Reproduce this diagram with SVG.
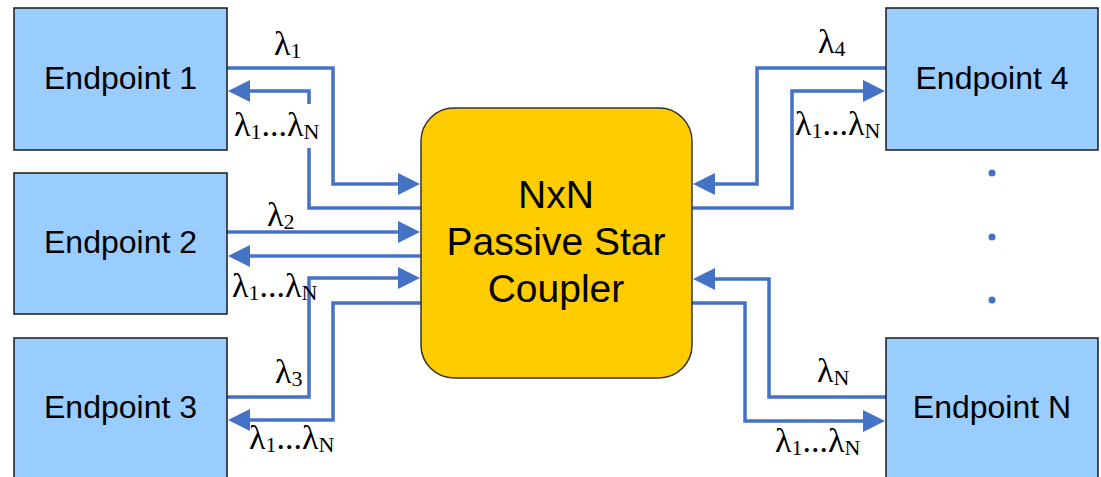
<svg xmlns="http://www.w3.org/2000/svg" width="1101" height="477" viewBox="0 0 1101 477">
  <style>
    .ep { fill: #99CCFF; stroke: #1a1a1a; stroke-width: 1.5; }
    .hub { fill: #FFCC00; stroke: #333333; stroke-width: 1.5; }
    .ept { font-family: "Liberation Sans", Arial, sans-serif; font-size: 32px; fill: #000; text-anchor: middle; }
    .hubt { font-family: "Liberation Sans", Arial, sans-serif; font-size: 39px; fill: #000; text-anchor: middle; }
    .wire { fill: none; stroke: #4472C4; stroke-width: 3.5; stroke-linejoin: miter; }
    .lbl { font-family: "Liberation Serif", "Times New Roman", serif; font-size: 34px; fill: #000; }
    .sub { font-size: 22px; }
    .dot { fill: #4472C4; }
  </style>
  <defs>
    <marker id="arrow" markerUnits="userSpaceOnUse" markerWidth="24" markerHeight="24" refX="2" refY="11" orient="auto">
      <path d="M0,0 L22,11 L0,22 z" fill="#4472C4"/>
    </marker>
  </defs>

  <rect width="1101" height="477" fill="#ffffff"/>

  <!-- connectors -->
  <g id="connectors">
    <path class="wire" marker-end="url(#arrow)" d="M227,68 H333 V184 H400"/>
    <path class="wire" marker-end="url(#arrow)" d="M421,208 H309 V91 H248"/>
    <path class="wire" marker-end="url(#arrow)" d="M227,232 H400"/>
    <path class="wire" marker-end="url(#arrow)" d="M421,256 H248"/>
    <path class="wire" marker-end="url(#arrow)" d="M227,397 H309 V278 H400"/>
    <path class="wire" marker-end="url(#arrow)" d="M421,303 H333 V420 H248"/>
    <path class="wire" marker-end="url(#arrow)" d="M886,68 H757 V184 H713"/>
    <path class="wire" marker-end="url(#arrow)" d="M692,208 H792 V91 H865"/>
    <path class="wire" marker-end="url(#arrow)" d="M886,397 H769 V279 H713"/>
    <path class="wire" marker-end="url(#arrow)" d="M692,303 H745 V421 H865"/>
  </g>

  <!-- wavelength labels -->
  <g id="labels">
    <text class="lbl" x="274" y="55">λ<tspan class="sub" dy="3">1</tspan></text>
    <rect x="299" y="104" width="20" height="44" fill="#ffffff"/>
    <text class="lbl" x="234" y="136">λ<tspan class="sub" dy="3">1</tspan><tspan dy="-3">...λ</tspan><tspan class="sub" dy="3">N</tspan></text>
    <text class="lbl" x="267" y="226">λ<tspan class="sub" dy="3">2</tspan></text>
    <text class="lbl" x="232" y="297">λ<tspan class="sub" dy="3">1</tspan><tspan dy="-3">...λ</tspan><tspan class="sub" dy="3">N</tspan></text>
    <text class="lbl" x="275" y="383">λ<tspan class="sub" dy="3">3</tspan></text>
    <text class="lbl" x="249" y="449">λ<tspan class="sub" dy="3">1</tspan><tspan dy="-3">...λ</tspan><tspan class="sub" dy="3">N</tspan></text>
    <text class="lbl" x="818" y="53">λ<tspan class="sub" dy="3">4</tspan></text>
    <text class="lbl" x="795" y="135">λ<tspan class="sub" dy="3">1</tspan><tspan dy="-3">...λ</tspan><tspan class="sub" dy="3">N</tspan></text>
    <text class="lbl" x="817" y="382">λ<tspan class="sub" dy="3">N</tspan></text>
    <text class="lbl" x="775" y="452">λ<tspan class="sub" dy="3">1</tspan><tspan dy="-3">...λ</tspan><tspan class="sub" dy="3">N</tspan></text>
  </g>

  <g id="endpoint1">
    <rect class="ep" x="14" y="8" width="213" height="142"/>
    <text class="ept" x="120.5" y="89">Endpoint 1</text>
  </g>
  <g id="endpoint2">
    <rect class="ep" x="14" y="173" width="213" height="141"/>
    <text class="ept" x="120.5" y="253">Endpoint 2</text>
  </g>
  <g id="endpoint3">
    <rect class="ep" x="14" y="338" width="213" height="145"/>
    <text class="ept" x="120.5" y="418">Endpoint 3</text>
  </g>
  <g id="endpoint4">
    <rect class="ep" x="886" y="8" width="212" height="142"/>
    <text class="ept" x="992" y="89">Endpoint 4</text>
  </g>
  <g id="endpointN">
    <rect class="ep" x="886" y="338" width="212" height="145"/>
    <text class="ept" x="992" y="418">Endpoint N</text>
  </g>

  <g id="ellipsis">
    <circle class="dot" cx="992" cy="173" r="3.5"/>
    <circle class="dot" cx="992" cy="237" r="3.5"/>
    <circle class="dot" cx="992" cy="300" r="3.5"/>
  </g>

  <g id="coupler">
    <rect class="hub" x="421" y="108" width="271" height="270" rx="33" ry="33"/>
    <text class="hubt" x="556" y="208">NxN</text>
    <text class="hubt" x="556" y="255">Passive Star</text>
    <text class="hubt" x="556" y="302">Coupler</text>
  </g>
</svg>
